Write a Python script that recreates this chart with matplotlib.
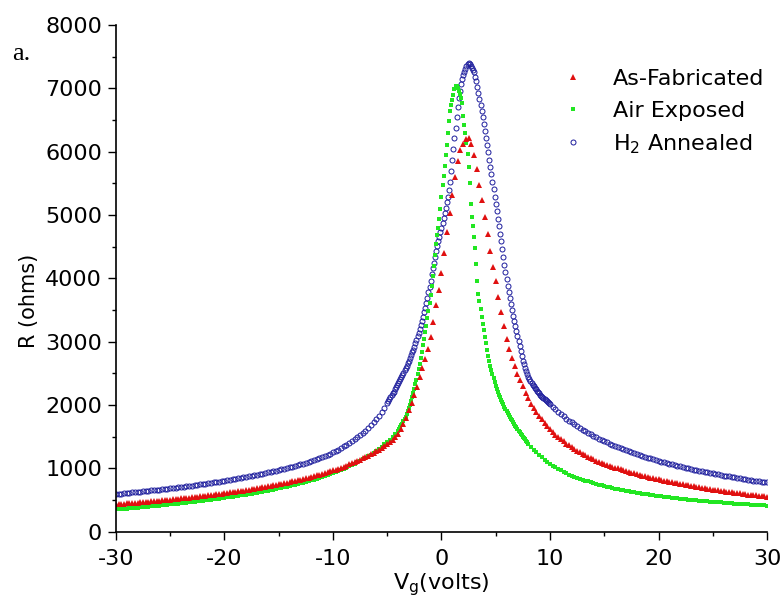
import numpy as np
import matplotlib
matplotlib.use("Agg")
import matplotlib.pyplot as plt
from matplotlib.ticker import MultipleLocator

# -----------------------------
# Data
# tails: 0.25 V steps, one row = 5 V
# core of the dense sweeps: 0.1 V steps, one row = 1 V
# -----------------------------
vg_fab = np.linspace(-30, 30, 241)
r_as_fabricated = [
    430, 433, 437, 440, 444, 447, 451, 454, 458, 462, 466, 469, 473, 477, 481, 485, 489, 493, 497, 501,
    506, 510, 515, 519, 524, 528, 533, 537, 542, 547, 552, 557, 562, 567, 572, 577, 583, 588, 594, 600,
    606, 612, 618, 624, 630, 636, 642, 648, 655, 662, 669, 676, 683, 690, 698, 705, 713, 721, 729, 737,
    746, 754, 763, 772, 782, 791, 801, 811, 821, 831, 842, 853, 864, 875, 887, 899, 912, 924, 937, 951,
    965, 979, 994, 1009, 1025, 1042, 1059, 1077, 1095, 1114, 1133, 1154, 1175, 1197, 1220, 1244, 1269, 1295, 1322, 1351,
    1381, 1412, 1445, 1490, 1545, 1615, 1700, 1800, 1915, 2030, 2150, 2285, 2436, 2580, 2720, 2885, 3076, 3310, 3570, 3815,
    4080, 4400, 4723, 5030, 5321, 5600, 5850, 6030, 6125, 6200, 6215, 6120, 5948, 5730, 5474, 5230, 4971, 4705, 4428, 4178,
    3957, 3700, 3460, 3240, 3036, 2880, 2746, 2610, 2493, 2390, 2292, 2190, 2103, 2020, 1945, 1880, 1825, 1770, 1715, 1662,
    1615, 1572, 1530, 1492, 1455, 1422, 1390, 1359, 1330, 1302, 1275, 1250, 1225, 1202, 1180, 1159, 1138, 1120, 1103, 1086,
    1070, 1054, 1039, 1024, 1010, 996, 983, 969, 956, 943, 931, 919, 908, 896, 885, 874, 864, 853, 843, 833,
    824, 814, 805, 796, 787, 778, 769, 760, 752, 744, 736, 728, 721, 713, 706, 698, 691, 684, 677, 670,
    664, 657, 651, 644, 638, 632, 626, 620, 614, 608, 602, 596, 591, 585, 580, 575, 570, 565, 560, 555,
    550,
]

# Air exposed: -30..-4.25 (0.25), -4.0..8.0 (0.1), 8.25..30 (0.25)
vg_air = np.concatenate([np.linspace(-30, -4.25, 104),
                         np.linspace(-4, 8, 121),
                         np.linspace(8.25, 30, 88)])
r_air_exposed = [
    350, 353, 357, 360, 364, 368, 372, 375, 379, 383, 387, 391, 395, 399, 403, 407, 411, 415, 420, 424,
    428, 432, 437, 442, 447, 451, 456, 461, 466, 471, 476, 481, 487, 492, 498, 503, 509, 515, 521, 527,
    533, 539, 545, 551, 558, 564, 571, 578, 585, 592, 600, 607, 615, 623, 631, 639, 647, 655, 664, 673,
    682, 691, 701, 710, 720, 730, 741, 752, 763, 774, 786, 798, 810, 822, 835, 849, 863, 877, 891, 906,
    922, 938, 955, 973, 991, 1010, 1029, 1049, 1070, 1092, 1114, 1138, 1163, 1189, 1216, 1245, 1275, 1307, 1341, 1376,
    1413, 1453, 1496, 1541,
    # -4.0 .. 8.0 V
    1590, 1617, 1645, 1675, 1706, 1740, 1776, 1814, 1856, 1901,
    1950, 2004, 2060, 2120, 2183, 2250, 2322, 2398, 2480, 2563,
    2650, 2745, 2841, 2940, 3043, 3150, 3250, 3370, 3490, 3610,
    3740, 3880, 4040, 4200, 4370, 4540, 4680, 4790, 4940, 5090,
    5290, 5470, 5620, 5770, 5940, 6110, 6300, 6490, 6640, 6740,
    6820, 6890, 6980, 7030, 7030, 7000, 6960, 6910, 6850, 6760,
    6560, 6420, 6290, 6130, 5960, 5760, 5500, 5170, 4970, 4830,
    4650, 4470, 4230, 3960, 3750, 3640, 3510, 3395, 3285, 3180,
    3078, 2970, 2865, 2770, 2690, 2620, 2548, 2480, 2418, 2357,
    2300, 2250, 2203, 2159, 2118, 2080, 2043, 2007, 1972, 1938,
    1905, 1873, 1842, 1812, 1783, 1755, 1727, 1700, 1673, 1646,
    1620, 1595, 1570, 1546, 1523, 1500, 1477, 1455, 1433, 1411,
    1390,
    # 8.25 .. 30 V
    1341, 1295, 1251, 1210, 1171, 1135, 1102,
    1070, 1042, 1015, 989, 965, 942, 920, 900, 880, 862, 845, 830, 815, 803, 791, 778, 765, 753, 741, 729,
    718, 708, 698, 688, 678, 669, 660, 652, 644, 636, 628, 620, 613, 606, 599, 592, 586, 579, 573, 567,
    561, 555, 550, 544, 539, 534, 529, 524, 519, 514, 510, 505, 501, 497, 493, 489, 485, 481, 477, 473,
    470, 466, 463, 459, 456, 453, 450, 446, 443, 440, 437, 434, 432, 429, 426, 423, 421, 418, 415, 412,
    410,
]

# H2 annealed: -30..-5.25 (0.25), -5.0..10.0 (0.1), 10.25..30 (0.25)
vg_h2 = np.concatenate([np.linspace(-30, -5.25, 100),
                        np.linspace(-5, 10, 151),
                        np.linspace(10.25, 30, 80)])
r_h2_annealed = [
    592, 596, 600, 604, 609, 613, 617, 621, 626, 630, 635, 639, 644, 649, 654, 658, 663, 668, 673, 678,
    683, 688, 694, 699, 705, 710, 716, 721, 727, 733, 739, 745, 751, 757, 764, 770, 776, 783, 790, 797,
    804, 811, 818, 825, 833, 840, 848, 856, 864, 872, 880, 888, 897, 906, 915, 924, 933, 942, 952, 962,
    972, 982, 993, 1004, 1015, 1026, 1038, 1050, 1062, 1074, 1087, 1100, 1113, 1128, 1143, 1159, 1175, 1192, 1210, 1230,
    1250, 1272, 1295, 1320, 1345, 1371, 1397, 1425, 1455, 1487, 1520, 1555, 1593, 1633, 1676, 1722, 1772, 1826, 1885, 1955,
    # -5.0 .. 10.0 V
    2030, 2060, 2090, 2120, 2150, 2180, 2211, 2243, 2276, 2308,
    2340, 2373, 2406, 2440, 2475, 2510, 2546, 2583, 2621, 2660,
    2700, 2741, 2784, 2828, 2873, 2920, 2971, 3024, 3080, 3138,
    3200, 3263, 3327, 3393, 3460, 3530, 3608, 3690, 3777, 3867,
    3960, 4060, 4155, 4245, 4340, 4430, 4510, 4585, 4655, 4730,
    4800, 4875, 4950, 5030, 5110, 5200, 5290, 5390, 5520, 5700,
    5870, 6040, 6210, 6375, 6540, 6700, 6840, 6960, 7070, 7150,
    7210, 7260, 7310, 7350, 7380, 7390, 7375, 7350, 7320, 7280,
    7250, 7180, 7110, 7025, 6930, 6830, 6735, 6640, 6540, 6435,
    6330, 6220, 6110, 5990, 5870, 5755, 5640, 5525, 5405, 5290,
    5175, 5060, 4940, 4820, 4700, 4580, 4455, 4330, 4210, 4095,
    3980, 3875, 3775, 3680, 3590, 3500, 3410, 3325, 3245, 3165,
    3090, 3010, 2930, 2850, 2775, 2700, 2640, 2582, 2530, 2483,
    2440, 2405, 2373, 2345, 2319, 2295, 2271, 2247, 2224, 2202,
    2180, 2160, 2140, 2122, 2106, 2090, 2074, 2058, 2042, 2026,
    2010,
    # 10.25 .. 30 V
    1968, 1928, 1890, 1854, 1819, 1785, 1753, 1722, 1692, 1664, 1637, 1610, 1584, 1559, 1536, 1513, 1491, 1469, 1448,
    1427, 1407, 1388, 1370, 1352, 1334, 1317, 1300, 1284, 1268, 1253, 1238, 1223, 1209, 1195, 1181, 1168, 1155, 1142, 1129,
    1117, 1105, 1093, 1082, 1071, 1060, 1049, 1038, 1028, 1018, 1008, 998, 988, 978, 969, 960, 951, 942, 934, 925,
    917, 909, 901, 893, 885, 877, 870, 862, 855, 848, 841, 834, 827, 820, 813, 806, 800, 793, 787, 781,
    775,
]

assert len(vg_fab) == len(r_as_fabricated)
assert len(vg_air) == len(r_air_exposed)
assert len(vg_h2) == len(r_h2_annealed)

# -----------------------------
# Plot
# -----------------------------
plt.rcParams["font.family"] = ["DejaVu Sans"]
plt.rcParams["axes.unicode_minus"] = False

fig = plt.figure(figsize=(7.83, 6.02), dpi=100)
ax = fig.add_axes([0.148, 0.117, 0.8316, 0.8417])

h2, = ax.plot(vg_h2, r_h2_annealed, linestyle="none", marker="o", markersize=3.6,
              markerfacecolor="none", markeredgecolor="#1c1c9c",
              markeredgewidth=0.7, label="H$_2$ Annealed")
air, = ax.plot(vg_air, r_air_exposed, linestyle="none", marker="s", markersize=3.5,
               color="#22e622", markeredgewidth=0, label="Air Exposed")
fab, = ax.plot(vg_fab, r_as_fabricated, linestyle="none", marker="^", markersize=4.5,
               color="#e01010", markeredgewidth=0, label="As-Fabricated")

ax.set_xlim(-30, 30)
ax.set_ylim(0, 8000)
ax.xaxis.set_major_locator(MultipleLocator(10))
ax.xaxis.set_minor_locator(MultipleLocator(5))
ax.yaxis.set_major_locator(MultipleLocator(1000))
ax.yaxis.set_minor_locator(MultipleLocator(500))

for side in ["top", "right"]:
    ax.spines[side].set_visible(False)
for side in ["left", "bottom"]:
    ax.spines[side].set_linewidth(1.2)

ax.tick_params(which="major", direction="out", length=5.5, width=1.0,
               labelsize=16)
ax.tick_params(which="minor", direction="out", length=3.2, width=1.0)
ax.tick_params(axis="x", which="major", pad=7)
ax.tick_params(axis="y", which="major", pad=4.5)

ax.set_xlabel("V$_\\mathregular{g}$(volts)", fontsize=16)
ax.xaxis.set_label_coords(0.5, -0.079)
ax.set_ylabel("R (ohms)", fontsize=15)
ax.yaxis.label.set_y(0.455)

ax.legend(handles=[fab, air, h2], loc="upper left",
          bbox_to_anchor=(0.685, 0.913), frameon=False,
          fontsize=16, handlelength=1.0, handletextpad=1.3, labelspacing=0.52,
          borderpad=0, borderaxespad=0)

fig.text(0.0153, 0.9, "a.", family="Liberation Serif", fontsize=19)

plt.savefig("out.png", dpi=100)
plt.close()
